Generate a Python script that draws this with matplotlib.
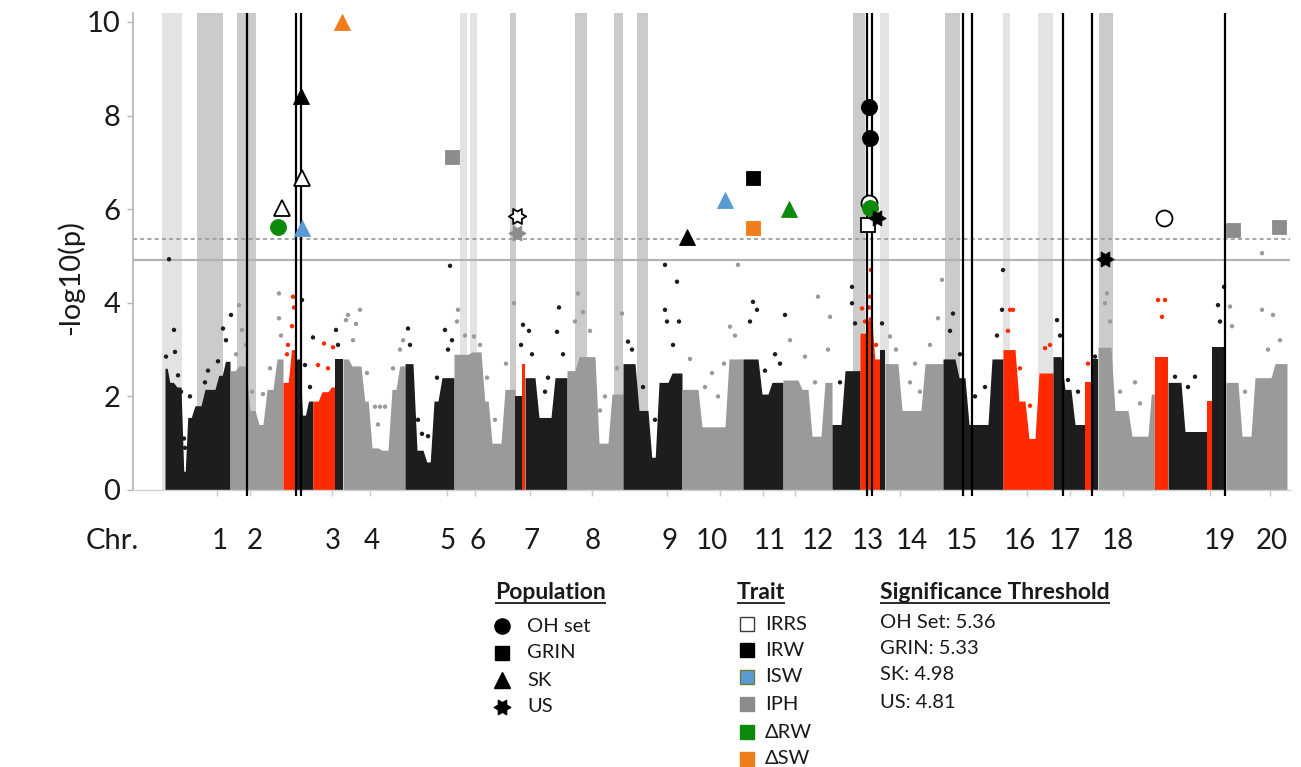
import numpy as np
import matplotlib
matplotlib.use("Agg")
import matplotlib.pyplot as plt
from matplotlib.path import Path
from matplotlib.transforms import blended_transform_factory

plt.rcParams['font.family'] = ['Lato', 'DejaVu Sans']

# ---------------- data ----------------
chrom_names = [str(i) for i in range(1, 21)]
chrom_label_x = [220, 255, 333, 372, 448, 478, 532, 593, 670, 712, 770, 818,
                 868, 912, 962, 1020, 1065, 1118, 1220, 1272]
chrom_tick_x = [217, 250, 332, 370, 447, 475, 530, 592, 667, 720, 763, 795,
                867, 900, 963, 1027, 1070, 1123, 1210, 1270]

# dense body of the Manhattan plot: bins (left edge, height, colour k/g/r)
body_left = [165, 168, 175, 183, 186, 193, 203, 217, 224,          # chr1
             230, 237, 248, 257, 265, 275,                          # chr2
             283, 290, 296, 301, 307, 313, 320, 330, 335,           # chr3
             343, 350, 363, 370, 380, 390, 398,                     # chr4
             405, 415, 425, 432, 440,                               # chr5
             454, 470, 483, 490, 503,                               # chr6
             515, 522, 525, 537, 553,                               # chr7
             567, 577, 597, 610,                                    # chr8
             623, 637, 650, 657, 670,                               # chr9
             682, 700, 727,                                         # chr10
             743, 760, 770,                                         # chr11
             783, 800, 810, 823,                                    # chr12
             832, 843, 860, 867, 873, 880,                          # chr13
             885, 900, 923,                                         # chr14
             943, 957, 967, 990,                                    # chr15
             1003, 1017, 1027, 1037,                                # chr16
             1053, 1063, 1073, 1085, 1093,                          # chr17
             1098, 1113, 1130, 1150,                                # chr18
             1155, 1168, 1183, 1207, 1212,                          # chr19
             1226, 1240, 1253, 1273]                                # chr20
body_end = 1287
body_height = [2.6, 2.3, 2.2, 0.4, 1.55, 1.8, 2.15, 2.45, 2.75,
               2.55, 2.65, 1.7, 1.4, 2.15, 2.8,
               2.3, 3.0, 2.8, 1.6, 1.9, 1.9, 2.1, 2.2, 2.8,
               2.8, 2.65, 1.9, 0.9, 0.85, 2.15, 2.65,
               2.7, 0.85, 0.6, 1.9, 2.4,
               2.9, 2.95, 1.9, 1.0, 2.15,
               2.0, 2.7, 2.4, 1.55, 2.4,
               2.55, 2.85, 1.0, 2.05,
               2.7, 1.7, 0.7, 2.3, 2.5,
               2.15, 1.35, 2.8,
               2.8, 2.05, 2.3,
               2.35, 2.15, 1.15, 2.3,
               1.4, 2.55, 3.35, 3.7, 2.8, 3.0,
               2.7, 1.7, 2.7,
               2.8, 2.4, 1.4, 2.8,
               3.0, 1.9, 1.1, 2.5,
               2.85, 2.15, 1.4, 2.3, 2.8,
               3.05, 1.7, 1.15, 2.05,
               2.85, 2.3, 1.25, 1.9, 3.05,
               2.3, 1.15, 2.4, 2.7]
body_color = ("kkkkkkkkk" "gggggg" "rrkkkrrrk" "ggggggg" "kkkkk" "ggggg"
              "krkkk" "gggg" "kkkkk" "ggg" "kkk" "gggg" "kkrrrk" "ggg"
              "kkkk" "rrrr" "kkkrk" "gggg" "rkkrk" "gggg")

# individual SNPs above the dense body
snp_x = [166, 174, 175, 169, 178, 181, 184, 185, 190, 205, 208, 223, 226, 231, 218,
         239, 242, 236, 252, 263, 270, 279, 279, 281, 246,
         288, 287, 293, 294, 292, 302, 313, 305, 310, 324, 333, 318, 328, 336, 338,
         346, 348, 360, 356, 353, 367, 375, 380, 385, 378, 393, 400, 403,
         408, 410, 418, 422, 428, 437, 445, 450, 448, 452,
         458, 457, 465, 474, 480, 487, 495, 506, 514,
         523, 521, 529, 532, 545, 548, 559, 557, 563,
         575, 578, 583, 590, 600, 605, 622, 617,
         628, 632, 643, 655, 665, 665, 667, 677, 679, 673,
         690, 705, 712, 718, 724, 730, 738, 735,
         753, 757, 750, 765, 775, 780, 785,
         790, 805, 818, 815, 830, 828,
         840, 852, 852, 855, 862, 865, 871, 870, 869, 876, 882,
         890, 896, 910, 915, 920, 942, 938, 930,
         953, 950, 960, 975, 985, 1002, 1003, 997,
         1010, 1013, 1008, 1020, 1030, 1045, 1050,
         1057, 1060, 1068, 1078, 1088, 1095,
         1107, 1105, 1110, 1120, 1140, 1135,
         1158, 1165, 1162, 1175, 1195, 1188, 1218, 1224, 1220,
         1230, 1232, 1245, 1262, 1262, 1273, 1280, 1268]
snp_y = [2.85, 3.42, 2.95, 4.93, 2.45, 2.1, 1.1, 0.9, 2.0, 2.3, 2.55, 3.45, 3.2, 3.74, 2.75,
         3.95, 3.42, 2.9, 2.1, 2.05, 2.6, 4.2, 3.67, 3.3, 3.1,
         3.1, 2.9, 4.13, 3.9, 3.5, 4.06, 3.26, 2.67, 2.2, 3.13, 3.05, 2.67, 2.6, 3.42, 3.1,
         3.63, 3.74, 3.85, 3.55, 3.2, 2.5, 1.78, 1.78, 1.78, 1.4, 2.6, 3.0, 3.2,
         3.45, 3.1, 1.5, 1.2, 1.15, 2.4, 3.42, 4.79, 3.0, 3.2,
         3.85, 3.6, 3.3, 3.28, 3.1, 2.4, 1.5, 2.7, 3.99,
         3.53, 3.1, 3.4, 2.9, 2.1, 2.4, 3.9, 3.38, 2.9,
         3.6, 4.2, 3.8, 3.4, 1.7, 2.0, 3.77, 2.6,
         3.17, 3.0, 2.2, 1.5, 4.81, 3.85, 3.6, 4.45, 3.6, 3.1,
         2.8, 2.2, 2.5, 2.0, 2.7, 3.49, 4.81, 3.3,
         4.02, 3.85, 3.6, 2.55, 2.9, 2.7, 3.74,
         3.2, 2.85, 4.13, 2.3, 3.7, 3.0,
         2.3, 4.34, 3.99, 3.56, 3.88, 3.6, 4.7, 4.13, 3.9, 3.1, 3.56,
         3.28, 3.0, 2.3, 2.7, 2.1, 4.49, 3.67, 3.1,
         3.77, 3.4, 2.9, 2.0, 2.2, 3.85, 4.7, 3.3,
         3.85, 3.85, 3.4, 2.6, 1.8, 3.03, 3.1,
         3.63, 3.3, 2.35, 2.1, 2.7, 2.85,
         4.2, 3.99, 3.6, 2.1, 1.85, 2.3,
         4.06, 4.06, 3.7, 2.42, 2.42, 2.2, 3.95, 4.34, 3.6,
         3.92, 3.5, 2.1, 3.85, 5.06, 3.74, 3.2, 3.0]
snp_color = ("kkkkkkkkkkkkkkk" "gggggggggg" "rrrrrkkkkrrrrkk" "ggggggggggggg"
             "kkkkkkkkkk" "ggggggggg" "kkkkkkkkk" "gggggggg" "kkkkkkkkkk"
             "gggggggg" "kkkkkkk" "gggggg" "kkkkrrrrrrk" "gggggggg" "kkkkkkkk"
             "rrrrrrr" "kkkkrk" "gggggg" "rrrkkkkkk" "gggggggg")

# significant associations
sig_x = [278, 282, 302, 302, 301, 342, 452, 517, 517, 687, 725, 753, 753, 789,
         869, 870, 869, 868, 870, 877, 1105, 1164, 1233, 1279]
sig_y = [5.62, 6.03, 5.60, 6.67, 8.42, 10.0, 7.12, 5.85, 5.49, 5.41, 6.20, 6.67, 5.60, 6.00,
         8.18, 7.52, 6.13, 5.66, 6.03, 5.81, 4.94, 5.81, 5.56, 5.62]
sig_pop = ['OH', 'SK', 'SK', 'SK', 'SK', 'SK', 'GRIN', 'US', 'US', 'SK', 'SK', 'GRIN', 'GRIN', 'SK',
           'OH', 'OH', 'OH', 'GRIN', 'OH', 'US', 'US', 'OH', 'GRIN', 'GRIN']
sig_trait = ['dRW', 'IRRS', 'ISW', 'IRRS', 'IRW', 'dSW', 'IPH', 'IRRS', 'IPH', 'IRW', 'ISW', 'IRW', 'dSW', 'dRW',
             'IRW', 'IRW', 'IRRS', 'IRRS', 'dRW', 'IRW', 'IRW', 'IRRS', 'IPH', 'IPH']

thresh_dotted = 5.36
thresh_solid = 4.92

band_x0 = [162, 197, 237, 460, 470, 510, 575, 614, 637, 853, 880, 945, 1003, 1038, 1099]
band_x1 = [182, 223, 256, 467, 477, 516, 587, 623, 648, 865, 889, 960, 1010, 1053, 1113]
band_tone = ['l', 'm', 'm', 'l', 'l', 'm', 'm', 'm', 'm', 'm', 'l', 'm', 'l', 'l', 'm']
qtl_lines = [247, 296, 301, 867, 872, 963, 972, 1063, 1092, 1225]

pop_names = ['OH set', 'GRIN', 'SK', 'US']
pop_keys = ['OH', 'GRIN', 'SK', 'US']
trait_names = ['IRRS', 'IRW', 'ISW', 'IPH', '\u0394RW', '\u0394SW']
trait_keys = ['IRRS', 'IRW', 'ISW', 'IPH', 'dRW', 'dSW']
threshold_text = ['OH Set: 5.36', 'GRIN: 5.33', 'SK: 4.98', 'US: 4.81']

# ---------------- styles ----------------
body_cmap = {'k': '#1d1d1d', 'g': '#9a9a9a', 'r': '#ff2a00'}
band_cmap = {'l': '#e3e3e3', 'm': '#cbcbcb'}
trait_face = {'IRRS': 'white', 'IRW': 'black', 'ISW': '#5b9bd5', 'IPH': '#8c8c8c',
              'dRW': '#0b8a0b', 'dSW': '#ee7d1a'}
trait_edge = {'IRRS': 'black', 'IRW': 'black', 'ISW': '#5b9bd5', 'IPH': '#8c8c8c',
              'dRW': '#0b8a0b', 'dSW': '#ee7d1a'}

ang = np.deg2rad(np.arange(0, 360, 30))
rad = np.where(np.arange(12) % 2 == 0, 1.0, 0.577)
sv = np.column_stack([rad * np.cos(ang), rad * np.sin(ang)])
star = Path(np.vstack([sv, sv[:1]]), closed=True)
pop_marker = {'OH': 'o', 'GRIN': 's', 'SK': '^', 'US': star}
pop_size = {'OH': 11.5, 'GRIN': 10.5, 'SK': 11.5, 'US': 12.5}

W, H = 1301, 767
fig = plt.figure(figsize=(W / 100, H / 100), dpi=100)
px_l, px_r, px_t, px_b = 133, 1290, 12.6, 490
ax = fig.add_axes([px_l / W, 1 - px_b / H, (px_r - px_l) / W, (px_b - px_t) / H])
ax.set_xlim(px_l, px_r)
ax.set_ylim(0, 10.2)

for x0, x1, t in zip(band_x0, band_x1, band_tone):
    ax.axvspan(x0, x1, color=band_cmap[t], lw=0, zorder=0.5)

ax.axhline(thresh_solid, color='#b3b3b3', lw=1.5, zorder=1)
ax.axhline(thresh_dotted, color='#9e9e9e', lw=1.3, ls=(0, (2.2, 1.8)), zorder=1)

# body: plateau per bin with short ramps between neighbouring bins of a colour run
edges = np.array(body_left + [body_end], dtype=float)
run_start = 0
n_bins = len(body_height)
for i in range(1, n_bins + 1):
    if i == n_bins or body_color[i] != body_color[run_start]:
        xs, ys = [], []
        for j in range(run_start, i):
            l, r, h = edges[j], edges[j + 1], body_height[j]
            d = min(2.0, (r - l) / 4)
            xs.append(l if j == run_start else l + d)
            ys.append(h)
            xs.append(r if j == i - 1 else r - d)
            ys.append(h)
        ax.fill_between(xs, 0, ys, color=body_cmap[body_color[run_start]], lw=0, zorder=2)
        run_start = i
ax.scatter(snp_x, snp_y, s=10, c=[body_cmap[c] for c in snp_color], linewidths=0, zorder=2.5)

ax.vlines(qtl_lines, -0.12, 10.2, colors='black', lw=1.6, zorder=3, clip_on=False)

for i, (x, y, p, t) in enumerate(zip(sig_x, sig_y, sig_pop, sig_trait)):
    ax.plot([x], [y], marker=pop_marker[p], ms=pop_size[p], mfc=trait_face[t],
            mec=trait_edge[t], mew=1.3 if t == 'IRRS' else 0.6, ls='none', zorder=4 + i * 0.01)

for s in ['top', 'right']:
    ax.spines[s].set_visible(False)
ax.spines['left'].set_color('#b4b4b4')
ax.spines['left'].set_linewidth(1.2)
ax.spines['bottom'].set_color('#d0d0d0')
ax.spines['bottom'].set_linewidth(1.0)
ax.set_yticks([0, 2, 4, 6, 8, 10])
ax.set_yticklabels(['0', '2', '4', '6', '8', '10'])
ax.tick_params(axis='y', length=4, width=1, color='#b4b4b4', pad=5, labelsize=21, labelcolor='#1a1a1a')
ax.set_xticks(chrom_tick_x)
ax.set_xticklabels([])
ax.tick_params(axis='x', length=4, width=1, color='#c8c8c8')

tr = blended_transform_factory(ax.transData, fig.transFigure)
for name, x in zip(chrom_names, chrom_label_x):
    ax.text(x, 1 - 541 / H, name, transform=tr, ha='center', va='center',
            fontsize=20, color='#1a1a1a', clip_on=False)
fig.text(112 / W, 1 - 541 / H, 'Chr.', ha='center', va='center', fontsize=21, color='#1a1a1a')
fig.text(70 / W, 1 - 277 / H, '-log10(p)', rotation=90, ha='center', va='center',
         fontsize=21, color='#1a1a1a')

# ---------------- legend (pixel-coordinate overlay) ----------------
lg = fig.add_axes([0, 0, 1, 1], zorder=-1)
lg.set_xlim(0, W)
lg.set_ylim(H, 0)
lg.axis('off')

hdr_size = 16.5
item_size = 14.5
headers = [(495, 'Population'), (737, 'Trait'), (880, 'Significance Threshold')]
hdr_texts = []
for x, s in headers:
    hdr_texts.append(lg.text(x, 599, s, ha='left', va='baseline', fontsize=hdr_size,
                             fontweight='bold', color='#1a1a1a'))

pop_rows = [626, 653, 680, 707]
for y, key, name in zip(pop_rows, pop_keys, pop_names):
    lg.plot([502], [y], marker=pop_marker[key], ms=pop_size[key] * 0.95, color='black', ls='none')
    lg.text(527, y, name, ha='left', va='center', fontsize=item_size, color='#1a1a1a')

trait_rows = [624, 650, 677, 704, 732, 759]
for y, key, name in zip(trait_rows, trait_keys, trait_names):
    ec = '#3a3a3a' if key == 'IRRS' else ('#6b7d3a' if key == 'ISW' else trait_face[key])
    lg.plot([747], [y], marker='s', ms=9.5, mfc=trait_face[key], mec=ec, mew=1.0, ls='none')
    lg.text(765, y, name, ha='left', va='center', fontsize=item_size, color='#1a1a1a')

thr_rows = [622, 648, 675, 702]
for y, s in zip(thr_rows, threshold_text):
    lg.text(880, y, s, ha='left', va='center', fontsize=item_size, color='#1a1a1a')

fig.canvas.draw()
rend = fig.canvas.get_renderer()
for t in hdr_texts:
    bb = t.get_window_extent(rend)
    lg.plot([bb.x0, bb.x1], [603, 603], color='#1a1a1a', lw=1.3, solid_capstyle='butt')

fig.savefig('out.png', dpi=100)
